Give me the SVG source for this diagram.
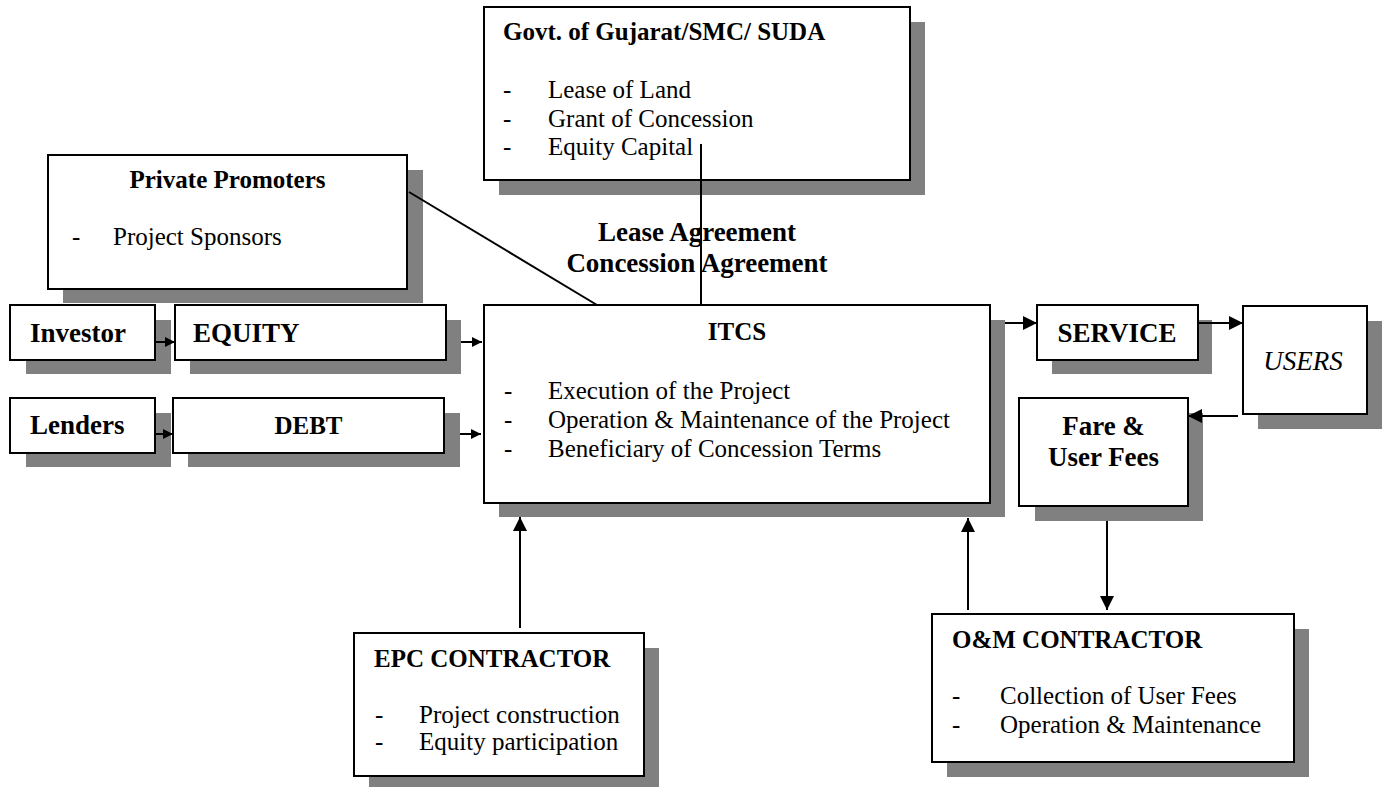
<svg xmlns="http://www.w3.org/2000/svg" width="1387" height="787" viewBox="0 0 1387 787">
  <defs>
    <style>
      .shadow { fill: #808080; stroke: none; }
      .box { fill: #ffffff; stroke: #000000; stroke-width: 2; }
      .title { font-family: "Liberation Serif", "Times New Roman", serif; font-weight: bold; font-size: 25px; fill: #000; }
      .big { font-family: "Liberation Serif", "Times New Roman", serif; font-weight: bold; font-size: 27px; fill: #000; }
      .item { font-family: "Liberation Serif", "Times New Roman", serif; font-size: 25px; fill: #000; }
      .ital { font-family: "Liberation Serif", "Times New Roman", serif; font-style: italic; font-size: 27px; fill: #000; }
      .link { fill: none; stroke: #000; stroke-width: 2; }
    </style>
    <marker id="headS" markerWidth="10" markerHeight="10" refX="10" refY="5" orient="auto" markerUnits="userSpaceOnUse">
      <path d="M0,0 L10,5 L0,10 Z" fill="#000"/>
    </marker>
    <marker id="headL" markerWidth="14" markerHeight="14" refX="14" refY="7" orient="auto" markerUnits="userSpaceOnUse">
      <path d="M0,0 L14,7 L0,14 Z" fill="#000"/>
    </marker>
  </defs>

  <rect width="1387" height="787" fill="#ffffff"/>

  <!-- Government authority -->
  <g id="govt">
    <rect class="shadow" x="499" y="22" width="426" height="173"/>
    <rect class="box" x="484" y="7" width="426" height="173"/>
    <text class="title" x="503" y="40">Govt. of Gujarat/SMC/ SUDA</text>
    <text class="item" x="503" y="98">-</text>
    <text class="item" x="548" y="98">Lease of Land</text>
    <text class="item" x="503" y="127">-</text>
    <text class="item" x="548" y="127">Grant of Concession</text>
    <text class="item" x="503" y="155">-</text>
    <text class="item" x="548" y="155">Equity Capital</text>
  </g>

  <!-- Private promoters -->
  <g id="promoters">
    <rect class="shadow" x="63" y="170" width="360" height="133"/>
    <rect class="box" x="48" y="155" width="359" height="134"/>
    <text class="title" x="227.5" y="188" text-anchor="middle">Private Promoters</text>
    <text class="item" x="72" y="245">-</text>
    <text class="item" x="113" y="245">Project Sponsors</text>
  </g>

  <!-- Agreement label -->
  <g id="agreements">
    <text class="big" x="697" y="241" text-anchor="middle">Lease Agreement</text>
    <text class="big" x="697" y="272" text-anchor="middle">Concession Agreement</text>
  </g>

  <!-- Equity chain -->
  <g id="investor">
    <rect class="shadow" x="26" y="320" width="145" height="54"/>
    <rect class="box" x="10" y="305" width="145" height="55"/>
    <text class="big" x="30" y="342">Investor</text>
  </g>
  <g id="equity">
    <rect class="shadow" x="190" y="320" width="271" height="54"/>
    <rect class="box" x="175" y="305" width="271" height="55"/>
    <text class="big" x="193" y="342">EQUITY</text>
  </g>

  <!-- Debt chain -->
  <g id="lenders">
    <rect class="shadow" x="26" y="413" width="145" height="54"/>
    <rect class="box" x="10" y="398" width="145" height="55"/>
    <text class="big" x="30" y="434">Lenders</text>
  </g>
  <g id="debt">
    <rect class="shadow" x="188" y="413" width="272" height="54"/>
    <rect class="box" x="173" y="398" width="271" height="55"/>
    <text class="title" x="308.5" y="434" text-anchor="middle">DEBT</text>
  </g>

  <!-- Concessionaire -->
  <g id="itcs">
    <rect class="shadow" x="499" y="320" width="506" height="197"/>
    <rect class="box" x="484" y="305" width="506" height="198"/>
    <text class="title" x="737" y="340" text-anchor="middle">ITCS</text>
    <text class="item" x="504" y="399">-</text>
    <text class="item" x="548" y="399">Execution of the Project</text>
    <text class="item" x="504" y="428">-</text>
    <text class="item" x="548" y="428">Operation &amp; Maintenance of the Project</text>
    <text class="item" x="504" y="457">-</text>
    <text class="item" x="548" y="457">Beneficiary of Concession Terms</text>
  </g>

  <g id="service">
    <rect class="shadow" x="1052" y="320" width="160" height="54"/>
    <rect class="box" x="1037" y="305" width="161" height="55"/>
    <text class="big" x="1117" y="342" text-anchor="middle">SERVICE</text>
  </g>

  <g id="users">
    <rect class="shadow" x="1258" y="321" width="124" height="108"/>
    <rect class="box" x="1243" y="306" width="124" height="108"/>
    <text class="ital" x="1303" y="370" text-anchor="middle">USERS</text>
  </g>

  <g id="fees">
    <rect class="shadow" x="1035" y="413" width="168" height="108"/>
    <rect class="box" x="1019" y="398" width="169" height="108"/>
    <text class="big" x="1103.5" y="435" text-anchor="middle">Fare &amp;</text>
    <text class="big" x="1103.5" y="466" text-anchor="middle">User Fees</text>
  </g>

  <!-- Contractors -->
  <g id="epc">
    <rect class="shadow" x="369" y="648" width="290" height="143"/>
    <rect class="box" x="354" y="633" width="290" height="143"/>
    <text class="title" x="374" y="667">EPC CONTRACTOR</text>
    <text class="item" x="375" y="723">-</text>
    <text class="item" x="419" y="723">Project construction</text>
    <text class="item" x="375" y="750">-</text>
    <text class="item" x="419" y="750">Equity participation</text>
  </g>

  <g id="om">
    <rect class="shadow" x="947" y="629" width="362" height="148"/>
    <rect class="box" x="932" y="614" width="362" height="148"/>
    <text class="title" x="952" y="648">O&amp;M CONTRACTOR</text>
    <text class="item" x="952" y="704">-</text>
    <text class="item" x="1000" y="704">Collection of User Fees</text>
    <text class="item" x="952" y="733">-</text>
    <text class="item" x="1000" y="733">Operation &amp; Maintenance</text>
  </g>

  <!-- Connectors -->
  <g id="connectors">
    <line class="link" x1="701" y1="144" x2="701" y2="305"/>
    <line class="link" x1="409" y1="192" x2="597" y2="305"/>
    <line class="link" x1="155" y1="342" x2="175" y2="342" marker-end="url(#headS)"/>
    <line class="link" x1="461" y1="342" x2="482" y2="342" marker-end="url(#headS)"/>
    <line class="link" x1="155" y1="434" x2="173" y2="434" marker-end="url(#headS)"/>
    <line class="link" x1="460" y1="434" x2="481" y2="434" marker-end="url(#headS)"/>
    <line class="link" x1="1005" y1="323" x2="1037" y2="323" marker-end="url(#headL)"/>
    <line class="link" x1="1198" y1="323" x2="1243" y2="323" marker-end="url(#headL)"/>
    <line class="link" x1="1238" y1="416" x2="1188" y2="416" marker-end="url(#headL)"/>
    <line class="link" x1="1107" y1="521" x2="1107" y2="610" marker-end="url(#headL)"/>
    <line class="link" x1="968" y1="610" x2="968" y2="518" marker-end="url(#headL)"/>
    <line class="link" x1="520" y1="628" x2="520" y2="517" marker-end="url(#headL)"/>
  </g>
</svg>
